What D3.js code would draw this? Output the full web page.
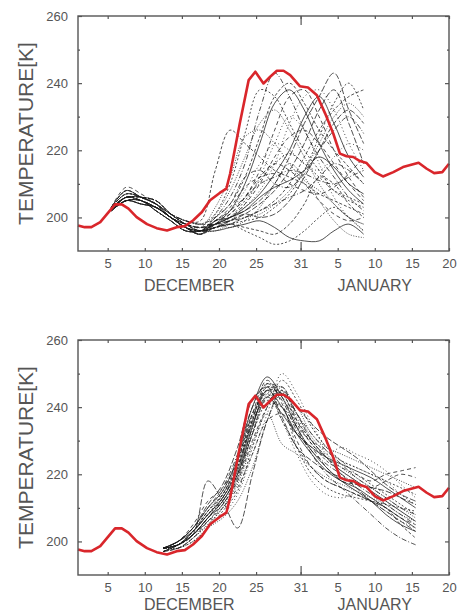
<!DOCTYPE html>
<html>
<head>
<meta charset="utf-8">
<script src="https://d3js.org/d3.v7.min.js"></script>
<style>
  body { margin: 0; background: #fff; }
  text { font-family: "Liberation Sans", Arial, sans-serif; fill: #555; }
</style>
</head>
<body>
<div id="chart"></div>
<script>
// days are counted from 1 December (1 January = day 32)

// analysis (red), same in both panels
const red_days = [1, 1.9, 2.8, 4, 4.9, 6, 6.9, 7.8, 8.9, 10.3, 11.6, 13, 14.3, 15.4, 16.5, 17.7, 18.8,
    20.1, 21, 21.5, 22.2, 22.8, 24, 24.9, 26, 26.9, 27.8, 28.7, 29.6, 30.9, 32, 33.2, 34.3, 35.4,
    36.3, 37.2, 38.1, 39, 39.9, 41, 42.1, 43.5, 44.8, 46.9, 48, 49, 50.1, 51];
const red_temps = [197.6, 197.1, 197.1, 198.6, 201, 203.9, 203.9, 202.6, 200.1, 198, 196.8, 196.1, 197.1, 197.4, 199.1, 201.6, 205.1,
    207.3, 208.6, 213, 221, 228, 240.9, 243.4, 239.9, 241.9, 243.7, 243.7, 242.4, 239.1, 238.7, 236.4, 231, 225,
    219, 218.2, 218, 216.8, 216.2, 213.5, 212.2, 213.5, 215, 216.3, 214.5, 213.2, 213.5, 216];

// forecasts started early December (top panel)
const top_days = [5.5, 7.5, 9.5, 11.5, 13.5, 15.5, 17.5, 19.5, 21.5, 23.5, 25.5, 27.5, 29.5, 31.5, 33.5, 35.5, 37.5, 39.5];
const top_runs = [
    [203, 208, 206, 204, 201, 199, 199, 214, 226, 222, 218, 214, 212, 210, 207, 205, 203, 201],
    [203, 207, 206, 204, 200, 198, 197, 203, 212, 224, 226, 222, 216, 211, 208, 204, 200, 198],
    [202, 206, 205, 203, 200, 197, 196, 200, 206, 216, 232, 243, 236, 226, 218, 212, 206, 202],
    [203, 206, 206, 205, 201, 198, 196, 201, 210, 225, 238, 236, 228, 220, 214, 208, 205, 203],
    [202, 205, 204, 203, 200, 197, 195, 198, 202, 210, 222, 234, 238, 232, 222, 214, 208, 204],
    [202, 205, 205, 202, 199, 196, 196, 199, 201, 206, 214, 226, 236, 238, 230, 220, 212, 206],
    [202, 206, 205, 203, 200, 197, 196, 197, 199, 203, 208, 216, 228, 236, 238, 232, 222, 214],
    [203, 207, 206, 204, 200, 198, 197, 198, 200, 202, 205, 210, 218, 228, 236, 243, 232, 222],
    [202, 205, 204, 203, 200, 197, 195, 197, 198, 200, 202, 205, 210, 218, 226, 232, 236, 238],
    [203, 206, 206, 205, 201, 198, 196, 196, 198, 200, 201, 204, 208, 214, 222, 230, 234, 230],
    [203, 208, 206, 204, 201, 199, 198, 200, 204, 212, 214, 210, 209, 213, 220, 226, 230, 225],
    [202, 205, 205, 202, 199, 196, 196, 197, 198, 196, 194, 192, 193, 196, 200, 203, 200, 196],
    [202, 206, 205, 203, 200, 197, 196, 196, 197, 198, 199, 197, 194, 193, 193, 196, 198, 195],
    [203, 207, 206, 204, 200, 198, 197, 198, 200, 204, 210, 218, 224, 226, 222, 216, 210, 205],
    [202, 205, 204, 203, 200, 197, 195, 199, 202, 208, 216, 222, 220, 216, 214, 218, 222, 220],
    [203, 206, 206, 205, 201, 198, 196, 197, 199, 201, 200, 201, 205, 212, 220, 228, 232, 228],
    [202, 205, 205, 202, 199, 196, 196, 200, 204, 212, 224, 236, 240, 234, 226, 220, 215, 210],
    [203, 208, 206, 204, 201, 199, 198, 201, 208, 218, 228, 232, 226, 218, 210, 204, 200, 198],
    [202, 206, 205, 203, 200, 197, 196, 198, 199, 200, 202, 204, 206, 208, 212, 216, 214, 210],
    [203, 207, 206, 204, 200, 198, 197, 197, 198, 199, 200, 203, 207, 214, 224, 234, 240, 232],
    [202, 205, 204, 203, 200, 197, 195, 199, 200, 203, 207, 213, 220, 230, 236, 228, 218, 212],
    [203, 206, 206, 205, 201, 198, 196, 198, 201, 206, 212, 216, 214, 210, 205, 201, 199, 200],
    [202, 205, 205, 202, 199, 196, 196, 197, 199, 204, 212, 222, 230, 226, 216, 206, 200, 196],
    [203, 208, 206, 204, 201, 199, 198, 198, 199, 201, 204, 208, 214, 222, 232, 238, 228, 216],
    [202, 206, 205, 203, 200, 197, 196, 197, 198, 197, 196, 195, 198, 204, 212, 210, 204, 200],
    [202, 205, 204, 203, 200, 197, 195, 198, 197, 199, 203, 210, 216, 212, 205, 199, 195, 194],
    [202, 206, 205, 203, 200, 197, 196, 199, 202, 206, 210, 212, 214, 213, 211, 210, 212, 214],
    [203, 206, 206, 205, 201, 198, 196, 197, 200, 205, 211, 216, 219, 216, 212, 208, 206, 204],
    [202, 205, 205, 202, 199, 196, 196, 198, 200, 202, 206, 209, 211, 214, 218, 215, 210, 207],
    [203, 209, 207, 204, 200, 198, 197, 199, 203, 209, 212, 213, 210, 208, 207, 209, 213, 218]
];

// forecasts started mid December (bottom panel)
const bottom_days = [12.5, 14.5, 16.5, 18.5, 20.5, 22.5, 24.5, 26.5, 28.5, 30.5, 32.5, 34.5, 36.5, 38.5, 40.5, 42.5, 44.5, 46.5];
const bottom_runs = [
    [198, 199, 203, 208, 213, 222, 236, 246, 244, 236, 230, 225, 221, 218, 215, 212, 209, 206],
    [198, 198, 201, 205, 210, 218, 232, 244, 246, 238, 231, 226, 222, 219, 216, 213, 210, 207],
    [198, 200, 204, 210, 216, 226, 240, 247, 242, 233, 227, 223, 220, 217, 214, 211, 208, 205],
    [197, 198, 200, 204, 209, 215, 228, 240, 248, 242, 234, 228, 224, 220, 217, 214, 211, 208],
    [198, 199, 202, 207, 212, 220, 234, 245, 240, 232, 226, 221, 218, 216, 213, 210, 207, 204],
    [198, 200, 205, 212, 216, 224, 238, 248, 241, 230, 222, 218, 216, 214, 212, 210, 207, 205],
    [197, 198, 201, 206, 208, 214, 226, 238, 250, 244, 235, 228, 224, 222, 220, 218, 214, 211],
    [198, 199, 202, 218, 212, 204, 220, 236, 245, 238, 230, 225, 220, 216, 212, 209, 206, 203],
    [198, 199, 203, 209, 214, 224, 238, 244, 236, 228, 222, 218, 216, 214, 212, 210, 205, 201],
    [198, 198, 200, 204, 207, 212, 222, 236, 244, 240, 232, 228, 226, 224, 222, 220, 218, 216],
    [197, 199, 202, 207, 212, 220, 234, 246, 243, 234, 226, 220, 216, 212, 208, 204, 201, 199],
    [198, 199, 203, 208, 214, 222, 236, 242, 240, 228, 220, 216, 214, 213, 212, 211, 210, 209],
    [198, 200, 203, 208, 213, 221, 235, 243, 238, 232, 228, 225, 223, 221, 219, 216, 213, 210],
    [197, 198, 201, 206, 211, 218, 230, 240, 246, 236, 229, 225, 222, 220, 218, 220, 221, 222],
    [198, 199, 202, 206, 211, 219, 233, 245, 246, 237, 230, 226, 228, 226, 224, 221, 217, 213],
    [198, 200, 204, 211, 217, 228, 242, 246, 237, 228, 224, 221, 219, 217, 216, 215, 213, 211],
    [197, 199, 203, 209, 214, 223, 237, 245, 244, 235, 229, 224, 221, 218, 215, 212, 209, 206],
    [198, 198, 201, 205, 210, 217, 229, 238, 229, 226, 222, 219, 217, 215, 213, 211, 208, 206],
    [198, 199, 202, 207, 213, 222, 236, 247, 245, 238, 232, 227, 223, 219, 216, 213, 210, 208],
    [197, 199, 203, 208, 212, 220, 232, 241, 240, 234, 230, 227, 224, 222, 220, 218, 216, 214],
    [198, 200, 204, 210, 215, 225, 240, 249, 243, 234, 227, 222, 218, 215, 212, 208, 205, 203],
    [198, 199, 202, 206, 210, 216, 226, 236, 238, 232, 228, 222, 218, 217, 216, 218, 220, 219],
    [198, 200, 204, 209, 215, 224, 238, 245, 236, 226, 218, 214, 213, 214, 212, 209, 206, 204],
    [197, 199, 202, 207, 211, 219, 232, 243, 244, 240, 235, 231, 228, 225, 221, 217, 214, 212]
];

const x_ticks = [5, 10, 15, 20, 25, 31, 36, 41, 46, 51];
const x_tick_labels = ["5", "10", "15", "20", "25", "31", "5", "10", "15", "20"];
const y_ticks = [200, 220, 240, 260];
const y_minor_ticks = [210, 230, 250];
const month_names = ["DECEMBER", "JANUARY"];
const month_days = [16, 41];

const dashes = ["3,2", "1,1.5", "5,2,1,2", "2,2", null, "4,3", "1,2.5", "6,2"];

function drawPanel(svg, top, days, runs, monthOffset) {
    const left = 78, right = 449, height = 235;

    const x = d3.scaleLinear().domain([1, 51]).range([left, right]);
    const y = d3.scaleLinear().domain([190, 260]).range([top + height, top]);

    const g = svg.append("g");

    // ensemble members
    const line = d3.line()
        .x((d, i) => x(days[i]))
        .y(d => y(d))
        .curve(d3.curveCatmullRom);

    g.append("g")
        .selectAll("path")
        .data(runs)
        .enter()
        .append("path")
        .attr("d", line)
        .attr("fill", "none")
        .attr("stroke", "#1a1a1a")
        .attr("stroke-width", 0.9)
        .attr("stroke-opacity", 0.85)
        .attr("stroke-dasharray", (d, i) => dashes[i % dashes.length]);

    // analysis
    const redLine = d3.line()
        .x((d, i) => x(red_days[i]))
        .y(d => y(d));

    g.append("path")
        .datum(red_temps)
        .attr("d", redLine)
        .attr("fill", "none")
        .attr("stroke", "#d9262b")
        .attr("stroke-width", 2.6)
        .attr("stroke-linejoin", "round");

    // frame
    g.append("rect")
        .attr("x", left).attr("y", top)
        .attr("width", right - left).attr("height", height)
        .attr("fill", "none")
        .attr("stroke", "#555")
        .attr("stroke-width", 1.4);

    const bottomAxis = d3.axisBottom(x).tickValues(x_ticks).tickSize(-3).tickPadding(8)
        .tickFormat((d, i) => x_tick_labels[i]);
    const ax = g.append("g").attr("transform", `translate(0,${top + height})`).call(bottomAxis);
    ax.select(".domain").remove();
    ax.selectAll("text").attr("font-size", "13px").attr("fill", "#555");

    const topAxis = d3.axisTop(x).tickValues(x_ticks).tickSize(-3).tickFormat("");
    g.append("g").attr("transform", `translate(0,${top})`).call(topAxis).select(".domain").remove();

    // year boundary tick
    const yearTick = [31];
    g.append("g").attr("transform", `translate(0,${top + height})`)
        .call(d3.axisBottom(x).tickValues(yearTick).tickSize(-9).tickFormat(""))
        .select(".domain").remove();
    g.append("g").attr("transform", `translate(0,${top})`)
        .call(d3.axisTop(x).tickValues(yearTick).tickSize(-9).tickFormat(""))
        .select(".domain").remove();

    const leftAxis = d3.axisLeft(y).tickValues(y_ticks).tickSize(-4).tickPadding(10);
    const ay = g.append("g").attr("transform", `translate(${left},0)`).call(leftAxis);
    ay.select(".domain").remove();
    ay.selectAll("text").attr("font-size", "13px").attr("fill", "#555");

    g.append("g").attr("transform", `translate(${left},0)`)
        .call(d3.axisLeft(y).tickValues(y_minor_ticks).tickSize(-2).tickFormat(""))
        .select(".domain").remove();
    g.append("g").attr("transform", `translate(${right},0)`)
        .call(d3.axisRight(y).tickValues(y_ticks).tickSize(-4).tickFormat(""))
        .select(".domain").remove();
    g.append("g").attr("transform", `translate(${right},0)`)
        .call(d3.axisRight(y).tickValues(y_minor_ticks).tickSize(-2).tickFormat(""))
        .select(".domain").remove();

    g.selectAll(".tick line").attr("stroke", "#555").attr("stroke-width", 1.2);

    // month labels
    g.selectAll(".month")
        .data(month_names)
        .enter()
        .append("text")
        .attr("class", "month")
        .attr("x", (d, i) => x(month_days[i]))
        .attr("y", top + height + monthOffset)
        .attr("text-anchor", "middle")
        .attr("font-size", "16px")
        .text(d => d);

    g.append("text")
        .attr("transform", `translate(33,${top + height / 2}) rotate(-90)`)
        .attr("text-anchor", "middle")
        .attr("font-size", "21px")
        .text("TEMPERATURE[K]");
}

function main() {
    const svg = d3.select("#chart")
        .append("svg")
        .attr("width", 459)
        .attr("height", 614);

    drawPanel(svg, 16, top_days, top_runs, 40);
    drawPanel(svg, 340, bottom_days, bottom_runs, 35);
}

main()
</script>
</body>
</html>
